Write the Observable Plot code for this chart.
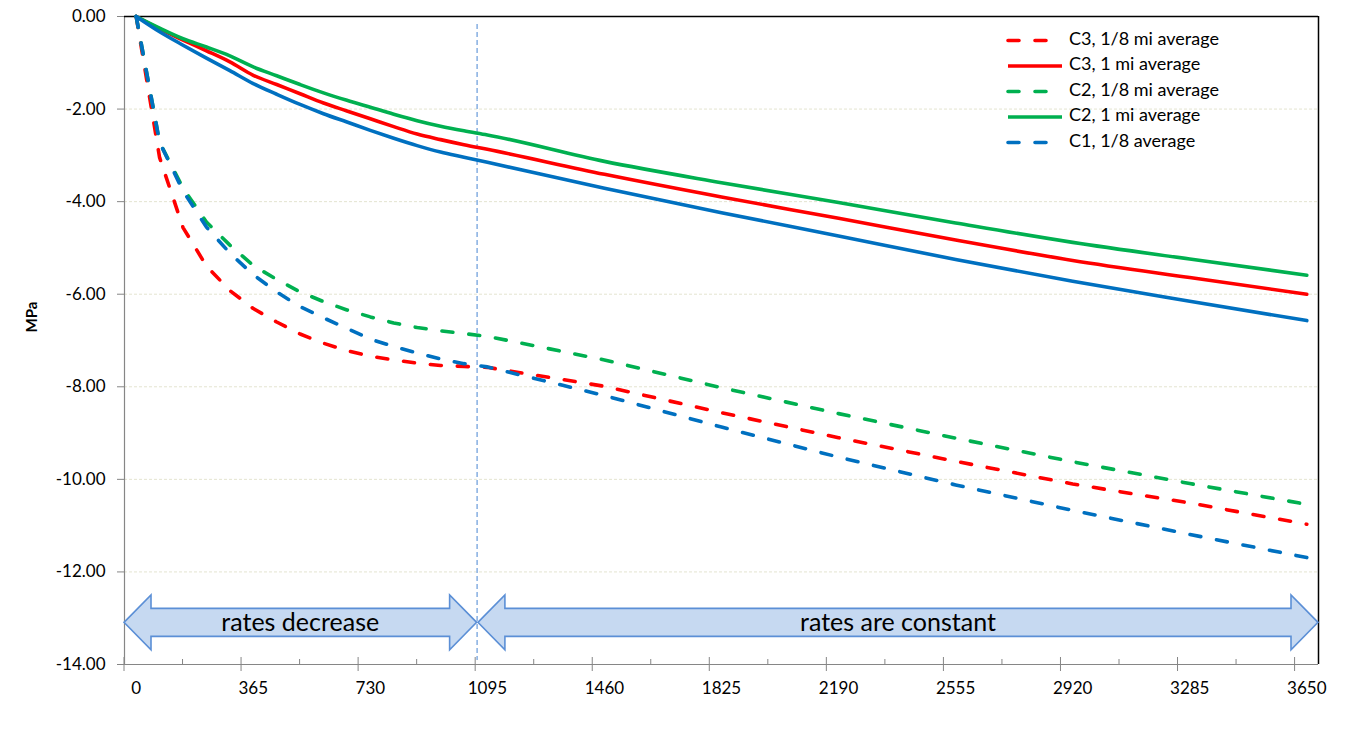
<!DOCTYPE html>
<html><head><meta charset="utf-8">
<script src="https://cdn.jsdelivr.net/npm/d3@7"></script>
<script src="https://cdn.jsdelivr.net/npm/@observablehq/plot@0.6"></script>
<style>body{margin:0;background:#fff}</style>
</head><body><div id="chart"></div>
<script>
// ---- data ----
const days = [0,73,146,219,292,365,438,511,584,657,730,803,876,949,1022,1095,1460,1825,2190,2555,2920,3285,3650];
const c3Eighth = [0,-3.05,-4.56,-5.39,-5.92,-6.31,-6.60,-6.86,-7.06,-7.22,-7.34,-7.42,-7.49,-7.54,-7.56,-7.58,-7.99,-8.56,-9.10,-9.61,-10.10,-10.51,-10.97];
const c3Mile   = [0,-0.27,-0.51,-0.74,-0.98,-1.27,-1.47,-1.67,-1.87,-2.04,-2.21,-2.38,-2.54,-2.66,-2.77,-2.87,-3.41,-3.90,-4.36,-4.83,-5.27,-5.64,-6.00];
const c2Eighth = [0,-2.72,-3.71,-4.44,-4.94,-5.38,-5.68,-5.95,-6.16,-6.34,-6.49,-6.62,-6.72,-6.79,-6.85,-6.91,-7.42,-8.02,-8.58,-9.11,-9.62,-10.09,-10.54];
const c2Mile   = [0,-0.25,-0.48,-0.66,-0.85,-1.09,-1.28,-1.47,-1.65,-1.81,-1.96,-2.11,-2.25,-2.37,-2.47,-2.56,-3.13,-3.59,-4.02,-4.46,-4.88,-5.24,-5.59];
const c1Eighth = [0,-2.72,-3.77,-4.55,-5.11,-5.58,-5.95,-6.27,-6.51,-6.74,-6.97,-7.13,-7.27,-7.40,-7.50,-7.57,-8.19,-8.87,-9.52,-10.12,-10.67,-11.19,-11.69];
const c1Mile   = [0,-0.33,-0.62,-0.90,-1.17,-1.45,-1.68,-1.90,-2.10,-2.28,-2.46,-2.63,-2.79,-2.93,-3.04,-3.15,-3.71,-4.24,-4.74,-5.25,-5.72,-6.15,-6.57];

const seriesNames  = ["C3, 1/8 mi average","C3, 1 mi average","C2, 1/8 mi average","C2, 1 mi average","C1, 1/8 average","C1, 1 mi average"];
const seriesValues = [c3Eighth, c3Mile, c2Eighth, c2Mile, c1Eighth, c1Mile];
const seriesColors = ["#FF0000","#FF0000","#00B050","#00B050","#0070C0","#0070C0"];
const seriesDashed = [true,false,true,false,true,false];
const legendCount = 5;

const xTickLabels = [0,365,730,1095,1460,1825,2190,2555,2920,3285,3650];
const yTicks = [0,-2,-4,-6,-8,-10,-12,-14];
const yGrid = [-2,-4,-6,-8,-10,-12];
const categoryStep = 73;
const xDomain = [-categoryStep/2, 3650 + categoryStep/2];
const majorTicks = d3.range(0, 11).map(k => k*365 - categoryStep/2);
const minorTicks = d3.range(0, 10).map(k => k*365 + 182.5 - categoryStep/2);
const splitDay = 1063;
const arrowLevel = -13.1;
const arrows = [
  {x1: xDomain[0], x2: splitDay, label: "rates decrease"},
  {x1: splitDay + 4, x2: xDomain[1], label: "rates are constant"}
];

// ---- build table ----
const rows = seriesNames.flatMap((name, s) => days.map((d, i) => ({series: name, day: d, value: seriesValues[s][i]})));

const DASH = "11,16";
const FONT = "Lato, 'Open Sans', sans-serif";

const lineMarks = seriesNames.map((name, s) =>
  Plot.line(rows.filter(r => r.series === name), {
    x: "day", y: "value", stroke: seriesColors[s], strokeWidth: 3.6,
    curve: seriesDashed[s] ? "linear" : "monotone-x",
    strokeDasharray: seriesDashed[s] ? DASH : null,
    strokeLinecap: "round", strokeLinejoin: "round"
  })
);

const tickMarks = (index, scales) => {
  const g = d3.create("svg:g").attr("stroke", "#868686").attr("stroke-width", 1);
  const y0 = scales.y(-14);
  for (const t of majorTicks) g.append("line").attr("x1", scales.x(t)).attr("x2", scales.x(t)).attr("y1", y0 - 7).attr("y2", y0 + 7);
  for (const t of minorTicks) g.append("line").attr("x1", scales.x(t)).attr("x2", scales.x(t)).attr("y1", y0 - 5).attr("y2", y0);
  return g.node();
};

const arrowMarks = (index, scales) => {
  const g = d3.create("svg:g");
  const h = 14, H = 27.5, L = 27;
  for (const a of arrows) {
    const x1 = scales.x(a.x1), x2 = scales.x(a.x2), yc = scales.y(arrowLevel);
    const pts = [[x1,yc],[x1+L,yc-H],[x1+L,yc-h],[x2-L,yc-h],[x2-L,yc-H],[x2,yc],[x2-L,yc+H],[x2-L,yc+h],[x1+L,yc+h],[x1+L,yc+H]];
    g.append("path").attr("d", "M" + pts.map(p => p.join(",")).join("L") + "Z")
      .attr("fill", "#C6D9F1").attr("stroke", "#5B8FD6").attr("stroke-width", 1.6).attr("stroke-linejoin", "miter");
    g.append("text").attr("x", (x1 + x2) / 2).attr("y", yc).attr("dy", "0.34em")
      .attr("text-anchor", "middle").attr("font-size", 25).attr("fill", "black").text(a.label);
  }
  return g.node();
};

const legendMark = (index, scales, values, dims) => {
  const g = d3.create("svg:g").attr("text-anchor", "start");
  const x0 = 1008, step = 25.5, top = 38.5;
  for (let s = 0; s < legendCount; s++) {
    const y = top + s * step;
    g.append("line").attr("x1", x0).attr("x2", seriesDashed[s] ? 1050 : 1062)
      .attr("y1", y + 2).attr("y2", y + 2)
      .attr("stroke", seriesColors[s]).attr("stroke-width", 3.6)
      .attr("stroke-dasharray", seriesDashed[s] ? "11,16" : null)
      .attr("stroke-linecap", seriesDashed[s] ? "round" : "butt");
    g.append("text").attr("x", 1069).attr("y", y).attr("dy", "0.36em")
      .attr("text-anchor", "start")
      .attr("font-size", 18).attr("fill", "black").text(seriesNames[s]);
  }
  return g.node();
};

const chart = Plot.plot({
  width: 1350, height: 743,
  marginLeft: 124, marginRight: 32, marginTop: 16, marginBottom: 79,
  style: {fontFamily: FONT, fontSize: "17px", background: "white", color: "black"},
  x: {type: "linear", domain: xDomain},
  y: {type: "linear", domain: [-14, 0]},
  marks: [
    Plot.ruleY(yGrid, {stroke: "#E4E4D0", strokeWidth: 1, strokeDasharray: "3,2"}),
    Plot.axisY(yTicks, {tickSize: 7, tickPadding: 12, tickFormat: d => d.toFixed(2), stroke: "#868686", fontSize: 17, label: null}),
    Plot.axisX(xTickLabels, {tickSize: 0, tickPadding: 17, tickFormat: d => String(d), fontSize: 17, label: null}),
    Plot.ruleX([xDomain[0]], {stroke: "#868686", strokeWidth: 1.2}),
    Plot.ruleY([-14], {stroke: "#868686", strokeWidth: 1.2}),
    tickMarks,
    Plot.ruleY([0], {stroke: "black", strokeWidth: 1.5}),
    Plot.ruleX([xDomain[1]], {stroke: "black", strokeWidth: 1.5}),
    Plot.ruleX([splitDay], {stroke: "#8EB4E3", strokeWidth: 1.6, strokeDasharray: "5,3", insetTop: 8, insetBottom: 4}),
    ...lineMarks,
    arrowMarks,
    legendMark,
    Plot.text(["MPa"], {frameAnchor: "left", dx: -92, dy: -8, rotate: -90, fontWeight: "bold", fontSize: 15})
  ]
});
document.getElementById("chart").appendChild(chart);
</script>
</body></html>
